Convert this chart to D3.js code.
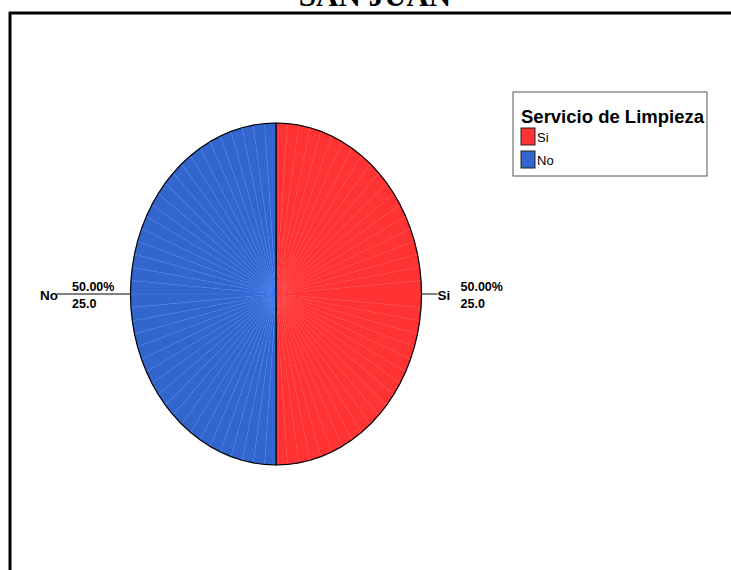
<!DOCTYPE html>
<html>
<head>
<meta charset="utf-8">
<script src="https://cdn.jsdelivr.net/npm/d3@7"></script>
<style>
  body { margin: 0; background: #fff; }
  svg { display: block; }
</style>
</head>
<body>
<svg id="chart"></svg>
<script>
const width = 731;
const height = 570;

// data
const categories = ["Si", "No"];
const counts = [25.0, 25.0];
const colors = ["#FF3333", "#3366CC"];
const legendTitle = "Servicio de Limpieza";
const chartTitle = "SAN JUAN";

var svg = d3.select("#chart")
    .attr("width", width)
    .attr("height", height);

// title (cut off at the top in the original)
svg.append("text")
    .attr("x", 375)
    .attr("y", 6)
    .attr("text-anchor", "middle")
    .style("font-family", "Liberation Serif, Times New Roman, serif")
    .style("font-weight", "bold")
    .style("font-size", "31px")
    .text(chartTitle);

// frame: only top and left edges are visible
svg.append("line")
    .attr("x1", 9).attr("y1", 13).attr("x2", width).attr("y2", 13)
    .attr("stroke", "black").attr("stroke-width", 3);
svg.append("line")
    .attr("x1", 10).attr("y1", 12).attr("x2", 10).attr("y2", height)
    .attr("stroke", "black").attr("stroke-width", 3);

// pie geometry (elliptical)
const cx = 276, cy = 294, rx = 145.5, ry = 171;
const facets = 40; // each slice is drawn as thin facets like the original

const total = d3.sum(counts);
const pie = d3.pie().sort(null).value(d => d.value);
const arcs = pie(categories.map((c, i) => ({ name: c, value: counts[i], color: colors[i] })));

function pt(a, k = 1) {
    return [cx + rx * k * Math.sin(a), cy - ry * k * Math.cos(a)];
}

const pieGroup = svg.append("g");

arcs.forEach(a => {
    const step = (a.endAngle - a.startAngle) / facets;
    const angles = d3.range(facets + 1).map(i => a.startAngle + i * step);
    // facets
    pieGroup.selectAll(null)
        .data(d3.range(facets))
        .enter().append("path")
        .attr("d", i => "M" + [cx, cy] + "L" + pt(angles[i]) + "L" + pt(angles[i + 1]) + "Z")
        .attr("fill", a.data.color)
        .attr("stroke", d3.color(a.data.color).brighter(0.6))
        .attr("stroke-width", 0.5)
        .attr("stroke-opacity", 0.7);
    // outline
    const line = d3.line();
    pieGroup.append("path")
        .attr("d", line([[cx, cy]].concat(angles.map(t => pt(t)))) + "Z")
        .attr("fill", "none")
        .attr("stroke", "black")
        .attr("stroke-width", 1.2)
        .attr("stroke-linejoin", "round");
});

// labels with leader lines
const fmtPct = d3.format(".2f");
const fmtVal = d3.format(".1f");
arcs.forEach(a => {
    const mid = (a.startAngle + a.endAngle) / 2;
    const right = Math.sin(mid) > 0;
    const edge = pt(mid);
    const g = svg.append("g")
        .style("font-family", "Liberation Sans, Arial, sans-serif")
        .style("font-weight", "bold")
        .style("font-size", "12.5px");
    if (right) {
        g.append("line")
            .attr("x1", edge[0]).attr("y1", edge[1])
            .attr("x2", edge[0] + 16).attr("y2", edge[1])
            .attr("stroke", "black");
        g.append("text")
            .attr("x", edge[0] + 16).attr("y", edge[1] + 6)
            .style("font-size", "13.5px")
            .text(a.data.name);
        g.append("text")
            .attr("x", edge[0] + 39).attr("y", edge[1] - 3)
            .text(fmtPct(a.data.value / total * 100) + "%");
        g.append("text")
            .attr("x", edge[0] + 39).attr("y", edge[1] + 14)
            .text(fmtVal(a.data.value));
    } else {
        g.append("line")
            .attr("x1", edge[0]).attr("y1", edge[1])
            .attr("x2", 57).attr("y2", edge[1])
            .attr("stroke", "black");
        g.append("text")
            .attr("x", 58).attr("y", edge[1] + 6)
            .attr("text-anchor", "end")
            .style("font-size", "13.5px")
            .text(a.data.name);
        g.append("text")
            .attr("x", 72).attr("y", edge[1] - 3)
            .text(fmtPct(a.data.value / total * 100) + "%");
        g.append("text")
            .attr("x", 72).attr("y", edge[1] + 14)
            .text(fmtVal(a.data.value));
    }
});

// legend
const legend = svg.append("g").attr("transform", "translate(513,92)");
legend.append("rect")
    .attr("width", 194).attr("height", 84)
    .attr("fill", "white")
    .attr("stroke", "#555")
    .attr("stroke-width", 1);
legend.append("text")
    .attr("x", 8).attr("y", 31)
    .style("font-family", "Liberation Sans, Arial, sans-serif")
    .style("font-weight", "bold")
    .style("font-size", "18.5px")
    .text(legendTitle);
const items = legend.selectAll(".item")
    .data(categories)
    .enter().append("g")
    .attr("transform", (d, i) => `translate(8,${36 + i * 23})`);
items.append("rect")
    .attr("width", 14).attr("height", 17)
    .attr("fill", (d, i) => colors[i])
    .attr("stroke", "#222").attr("stroke-width", 1);
items.append("text")
    .attr("x", 16).attr("y", 14)
    .style("font-family", "Liberation Sans, Arial, sans-serif")
    .style("font-size", "13px")
    .text(d => d);
</script>
</body>
</html>
